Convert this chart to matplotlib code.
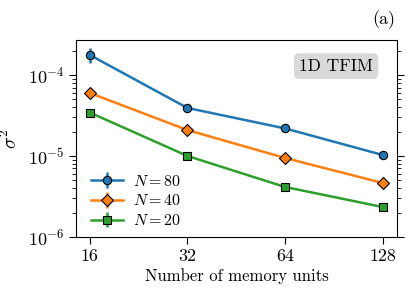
import matplotlib
matplotlib.use("Agg")
import matplotlib.pyplot as plt
from matplotlib.ticker import FixedLocator, NullLocator, FixedFormatter

plt.rcParams['font.family'] = 'serif'
plt.rcParams['font.serif'] = ['cmr10', 'DejaVu Serif']
plt.rcParams['mathtext.fontset'] = 'cm'
plt.rcParams['axes.formatter.use_mathtext'] = True
plt.rcParams['font.size'] = 11

units = [16, 32, 64, 128]
tick_labels = ['16', '32', '64', '128']
n80 = [1.77e-4, 3.92e-5, 2.19e-5, 1.03e-5]
n80_err = [0.38e-4, 1.5e-6, 8e-7, 4e-7]
n40 = [6.0e-5, 2.09e-5, 9.45e-6, 4.64e-6]
n40_err = [4e-6, 8e-7, 3e-7, 1.5e-7]
n20 = [3.44e-5, 1.0e-5, 4.14e-6, 2.34e-6]
n20_err = [2e-6, 4e-7, 1.5e-7, 8e-8]

fig = plt.figure(figsize=(4.15, 2.95), dpi=100)
ax = fig.add_axes([0.183, 0.197, 0.774, 0.667])

ax.errorbar(units, n80, yerr=n80_err, marker='o', color='#1f77b4', mec='black', mew=0.8, ms=6, lw=1.8, label='$N = 80$')
ax.errorbar(units, n40, yerr=n40_err, marker='D', color='#ff7f0e', mec='black', mew=0.8, ms=6, lw=1.8, label='$N = 40$')
ax.errorbar(units, n20, yerr=n20_err, marker='s', color='#2ca02c', mec='black', mew=0.8, ms=5.5, lw=1.8, label='$N = 20$')

ax.set_xscale('log', base=2)
ax.set_yscale('log')
ax.set_xlim(14.5, 142)
ax.set_ylim(1e-6, 2.7e-4)
ax.xaxis.set_major_locator(FixedLocator(units))
ax.xaxis.set_major_formatter(FixedFormatter(tick_labels))
ax.xaxis.set_minor_locator(NullLocator())
ax.tick_params(axis='y', which='both', right=True)
ax.tick_params(which='major', labelsize=13, length=5)
ax.tick_params(which='minor', length=3)
ax.set_xlabel('Number of memory units', fontsize=12, labelpad=3)
ax.set_ylabel(r'$\sigma^2$', fontsize=14, labelpad=5)

ax.text(0.925, 0.868, '1D TFIM', transform=ax.transAxes, ha='right', va='center', fontsize=12.5,
        bbox=dict(boxstyle='round,pad=0.3', fc='#d9d9d9', ec='none'))
fig.text(0.952, 0.935, '(a)', ha='right', va='center', fontsize=13)

ax.legend(loc='lower left', bbox_to_anchor=(0.02, 0.0), frameon=False, handlelength=2.0,
          borderaxespad=0.15, labelspacing=0.3, fontsize=11.5, handletextpad=0.6)

fig.savefig('out.png', dpi=100)
